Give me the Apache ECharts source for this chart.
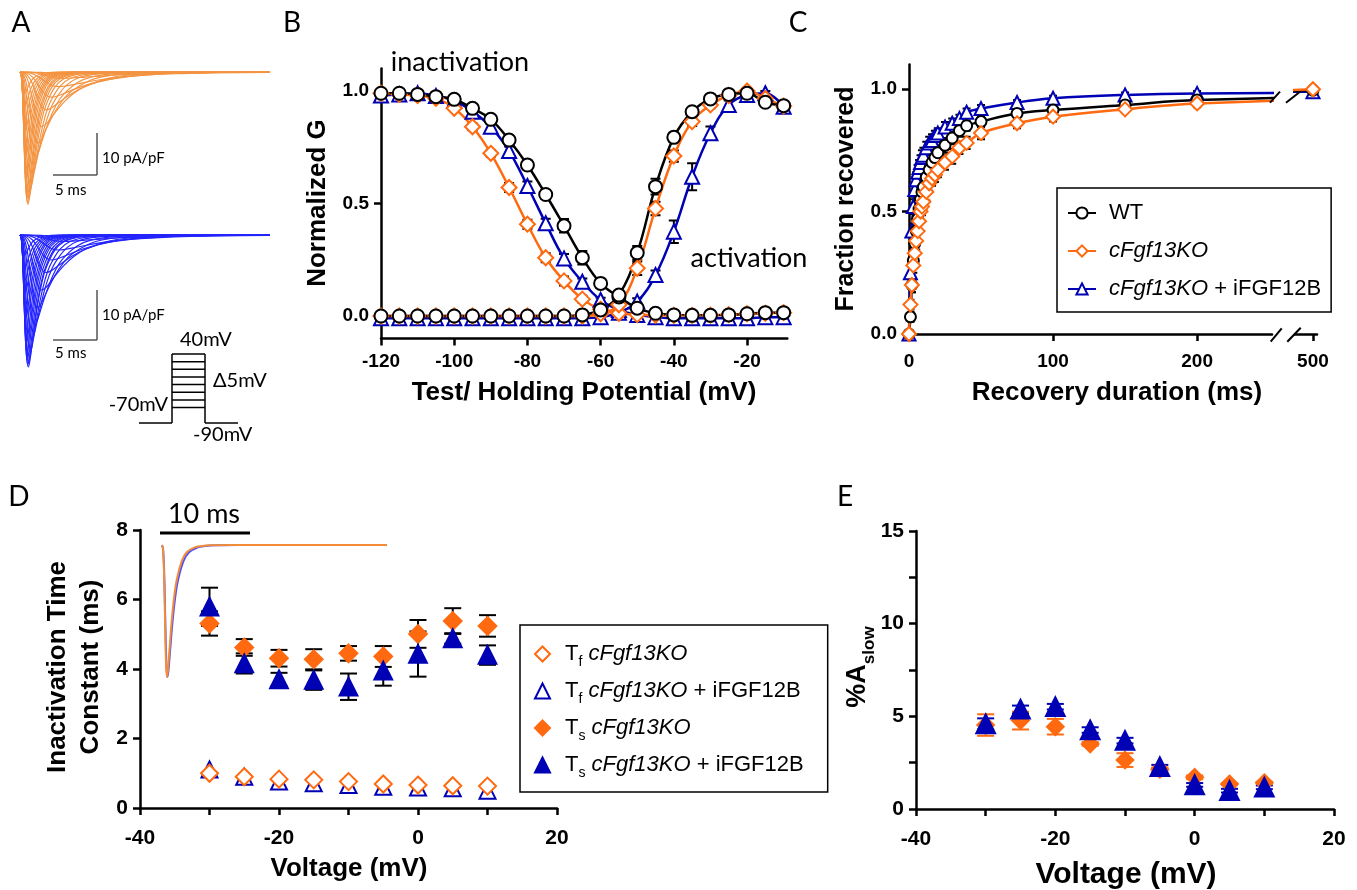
<!DOCTYPE html>
<html>
<head>
<meta charset="utf-8">
<title>cFgf13KO sodium current kinetics</title>
<script src="https://cdn.jsdelivr.net/npm/echarts@6/dist/echarts.min.js"></script>
<style>
  html, body { margin: 0; padding: 0; background: #fff; }
  #main { width: 1357px; height: 890px; }
</style>
</head>
<body>
<div id="main"></div>
<script>
// ---------- data ----------
// A: sodium current sweeps (-70 .. +40 mV), peak density (pA/pF) and time to peak (ms)
var sweepAmpKO = [0.5, 1.5, 3.5, 6, 9, 13, 17, 21, 25, 28, 30, 31.5, 31, 30, 28, 25.5, 23, 20, 17, 14, 11, 8, 5];
var sweepTpKO = [6, 5, 4.4, 3.6, 3.0, 2.5, 2.0, 1.65, 1.35, 1.15, 1.0, 0.9, 0.84, 0.8, 0.75, 0.72, 0.7, 0.68, 0.65, 0.62, 0.6, 0.58, 0.55];
var sweepAmpRescue = [0.4, 1.3, 3, 5, 7.5, 11, 14.5, 18, 21, 23.5, 25.3, 26.4, 26, 25, 23.5, 21.5, 19, 16.5, 14, 11.5, 9, 6.5, 4];
var sweepTpRescue = [6, 5, 4.4, 3.6, 3.0, 2.5, 2.0, 1.65, 1.35, 1.15, 1.0, 0.95, 0.88, 0.82, 0.78, 0.74, 0.7, 0.68, 0.65, 0.62, 0.6, 0.58, 0.55];
// normalised current waveform (time in units of time-to-peak)
var shapeT = [0, 0.2, 0.4, 0.6, 0.8, 1.0, 1.2, 1.5, 2.0, 2.5, 3.0, 4.0, 5.0, 6.5, 8.0, 10, 14];
var shapeI = [0, 0.03, 0.2, 0.55, 0.88, 1.0, 0.95, 0.8, 0.56, 0.38, 0.26, 0.12, 0.055, 0.02, 0.008, 0.002, 0];
var sweepEnd = 28.7;
// D inset: normalised traces, time to peak (ms)
var insetTpKO = 0.55;
var insetTpRescue = 0.6;
var insetEnd = 25;

// B: steady-state inactivation / activation
var vB = [-120, -115, -110, -105, -100, -95, -90, -85, -80, -75, -70, -65, -60, -55, -50, -45, -40, -35, -30, -25, -20, -15, -10];
var inactWT = [0.99, 0.99, 0.985, 0.975, 0.963, 0.923, 0.874, 0.782, 0.671, 0.540, 0.401, 0.259, 0.145, 0.085, 0.035, 0.012, 0.005, 0.003, 0.003, 0.005, 0.01, 0.015, 0.015];
var inactKO = [0.99, 0.985, 0.98, 0.967, 0.923, 0.841, 0.723, 0.571, 0.408, 0.259, 0.156, 0.075, 0.03, 0.012, 0.006, 0.004, 0.003, 0.003, 0.004, 0.006, 0.01, 0.012, 0.015];
var inactRescue = [0.98, 0.985, 0.99, 0.978, 0.957, 0.908, 0.841, 0.733, 0.578, 0.412, 0.256, 0.152, 0.071, 0.027, 0.005, -0.005, -0.01, -0.01, -0.01, -0.01, -0.01, -0.005, -0.005];
var actWT = [0, 0, 0, 0, 0, 0, 0, 0, 0, 0, 0, 0.005, 0.027, 0.093, 0.281, 0.575, 0.794, 0.908, 0.965, 0.985, 0.99, 0.95, 0.935];
var actKO = [0, 0, 0, 0, 0, 0, 0, 0, 0, 0, 0, 0, 0.01, 0.05, 0.212, 0.478, 0.711, 0.864, 0.938, 0.98, 1.0, 0.967, 0.933];
var actRescue = [-0.01, -0.01, -0.01, -0.01, -0.01, -0.01, -0.01, -0.01, -0.01, -0.01, -0.01, -0.01, -0.005, 0.015, 0.064, 0.182, 0.375, 0.619, 0.812, 0.938, 0.982, 0.99, 0.93];
var errInactWT = [0, 0, 0, 0.01, 0.01, 0.01, 0.015, 0.015, 0.02, 0.02, 0.03, 0.03, 0.02, 0.015, 0.01, 0, 0, 0, 0, 0, 0, 0, 0];
var errInactKO = [0, 0, 0, 0.01, 0.01, 0.015, 0.015, 0.02, 0.02, 0.02, 0.02, 0.015, 0.01, 0, 0, 0, 0, 0, 0, 0, 0, 0, 0];
var errInactRescue = [0, 0, 0, 0.01, 0.01, 0.015, 0.02, 0.02, 0.02, 0.02, 0.02, 0.015, 0.01, 0, 0, 0, 0, 0, 0, 0, 0, 0, 0];
var errActWT = [0, 0, 0, 0, 0, 0, 0, 0, 0, 0, 0, 0, 0.01, 0.015, 0.03, 0.035, 0.02, 0.015, 0.01, 0.01, 0.01, 0.015, 0.02];
var errActKO = [0, 0, 0, 0, 0, 0, 0, 0, 0, 0, 0, 0, 0.01, 0.01, 0.03, 0.03, 0.025, 0.02, 0.015, 0.01, 0.01, 0.01, 0.015];
var errActRescue = [0, 0, 0, 0, 0, 0, 0, 0, 0, 0, 0, 0, 0, 0.01, 0.015, 0.02, 0.05, 0.06, 0.03, 0.02, 0.01, 0.01, 0.015];

// C: recovery from inactivation
var recTime = [0, 1, 2, 3, 4, 5, 6, 7, 8, 9, 10, 12, 14, 16, 18, 20, 25, 30, 35, 40, 50, 75, 100, 150, 200, 500];
var recWT = [0, 0.07, 0.2, 0.3, 0.37, 0.42, 0.47, 0.51, 0.55, 0.58, 0.6, 0.64, 0.67, 0.7, 0.72, 0.74, 0.77, 0.8, 0.83, 0.85, 0.867, 0.9, 0.914, 0.935, 0.955, 0.995];
var recKO = [0, 0.12, 0.2, 0.28, 0.33, 0.38, 0.42, 0.46, 0.5, 0.52, 0.54, 0.58, 0.615, 0.635, 0.65, 0.67, 0.7, 0.725, 0.76, 0.78, 0.82, 0.86, 0.887, 0.917, 0.941, 0.999];
var recRescue = [0, 0.25, 0.42, 0.52, 0.59, 0.63, 0.66, 0.68, 0.7, 0.72, 0.73, 0.76, 0.78, 0.79, 0.81, 0.82, 0.845, 0.86, 0.88, 0.905, 0.92, 0.945, 0.962, 0.976, 0.982, 0.989];
var errRecWT = [0, 0.02, 0.03, 0.03, 0.03, 0.03, 0.03, 0.03, 0.03, 0.03, 0.03, 0.03, 0.03, 0.03, 0.03, 0.03, 0.03, 0.025, 0.025, 0.02, 0.02, 0.02, 0.015, 0.015, 0.01, 0.01];
var errRecKO = [0, 0.02, 0.03, 0.03, 0.035, 0.035, 0.035, 0.035, 0.035, 0.035, 0.035, 0.035, 0.03, 0.03, 0.03, 0.03, 0.03, 0.03, 0.025, 0.025, 0.025, 0.02, 0.02, 0.015, 0.015, 0.01];
var errRecRescue = [0, 0.03, 0.03, 0.03, 0.03, 0.03, 0.03, 0.03, 0.03, 0.03, 0.03, 0.025, 0.025, 0.025, 0.02, 0.02, 0.02, 0.02, 0.015, 0.015, 0.015, 0.01, 0.01, 0.01, 0.01, 0.01];

// D: inactivation time constants (ms)
var vD = [-30, -25, -20, -15, -10, -5, 0, 5, 10];
var tfKO = [1.00, 0.90, 0.83, 0.81, 0.76, 0.69, 0.66, 0.64, 0.63];
var tfRescue = [1.11, 0.90, 0.76, 0.71, 0.66, 0.61, 0.59, 0.57, 0.50];
var tsKO = [5.31, 4.62, 4.31, 4.28, 4.45, 4.36, 5.01, 5.38, 5.24];
var tsRescue = [5.79, 4.16, 3.70, 3.68, 3.49, 3.95, 4.43, 4.88, 4.40];
var errTsKO = [0.35, 0.24, 0.24, 0.29, 0.21, 0.30, 0.40, 0.37, 0.31];
var errTsRescue = [0.55, 0.29, 0.19, 0.28, 0.38, 0.43, 0.65, 0.15, 0.28];

// E: % slow component
var aslowKO = [4.53, 4.77, 4.44, 3.51, 2.64, 2.14, 1.71, 1.35, 1.42];
var aslowRescue = [4.59, 5.38, 5.52, 4.26, 3.69, 2.28, 1.30, 0.99, 1.17];
var errAslowKO = [0.58, 0.48, 0.42, 0.1, 0.37, 0.1, 0.1, 0.05, 0.05];
var errAslowRescue = [0.3, 0.2, 0.15, 0.15, 0.15, 0.1, 0.1, 0.1, 0.1];

// ---------- style ----------
var BLACK = '#000';
var ORANGE = '#FF6A10';
var BLUE = '#0000B4';
var TRACE_ORANGE = '#F39442';
var TRACE_BLUE = '#2424FF';
var AXIS_FONT = 'Liberation Sans';
var NOTE_FONT = 'Lato';

var chart = echarts.init(document.getElementById('main'));

function grid(l, t, w, h) {
  return { left: l, top: t, width: w, height: h, outerBoundsMode: 'none', containLabel: false };
}

function axis(gi, min, max, ticks, labels, o) {
  o = o || {};
  var a = {
    type: 'value', gridIndex: gi, min: min, max: max,
    splitLine: { show: false },
    axisLine: { show: true, onZero: false, lineStyle: { color: BLACK, width: 2.5 } },
    axisTick: { show: true, length: o.tick || 7, customValues: ticks, lineStyle: { color: BLACK, width: 2.5 } },
    axisLabel: {
      show: true, customValues: labels, margin: o.margin || 10, color: BLACK,
      fontFamily: AXIS_FONT, fontWeight: 'bold', fontSize: o.size || 19
    }
  };
  if (o.fmt) a.axisLabel.formatter = o.fmt;
  return a;
}

function hidden(gi, min, max) {
  return { type: 'value', gridIndex: gi, min: min, max: max, show: false, splitLine: { show: false } };
}

function sweep(amp, tp, tEnd) {
  var pts = [];
  for (var i = 0; i < shapeT.length; i++) {
    if (shapeT[i] * tp < tEnd) pts.push([shapeT[i] * tp, -amp * shapeI[i]]);
  }
  pts.push([tEnd, 0]);
  return pts;
}

function pairs(xs, ys) {
  return xs.map(function (x, i) { return [x, ys[i]]; });
}

function curve(gi, name, xs, ys, color, symbol, size, z) {
  return {
    type: 'line', name: name, xAxisIndex: gi, yAxisIndex: gi, data: pairs(xs, ys),
    smooth: 0.4, symbol: symbol, symbolSize: size, showSymbol: true,
    lineStyle: { color: color, width: 2.5 },
    itemStyle: { color: color, borderColor: color, borderWidth: 2.2 },
    z: z || 3, clip: true, silent: true, animation: false
  };
}

function errBars(gi, xs, ys, es, color, cap, z) {
  return {
    type: 'custom', xAxisIndex: gi, yAxisIndex: gi, silent: true, z: z || 2, clip: true,
    data: xs.map(function (x, i) { return [x, ys[i] - es[i], ys[i] + es[i]]; }),
    encode: { x: 0, y: [1, 2] },
    renderItem: function (params, api) {
      if (api.value(1) === api.value(2)) return null;
      var lo = api.coord([api.value(0), api.value(1)]);
      var hi = api.coord([api.value(0), api.value(2)]);
      var h = cap / 2;
      var st = { stroke: color, lineWidth: 2 };
      return {
        type: 'group', children: [
          { type: 'line', shape: { x1: lo[0], y1: lo[1], x2: hi[0], y2: hi[1] }, style: st },
          { type: 'line', shape: { x1: lo[0] - h, y1: lo[1], x2: lo[0] + h, y2: lo[1] }, style: st },
          { type: 'line', shape: { x1: hi[0] - h, y1: hi[1], x2: hi[0] + h, y2: hi[1] }, style: st }
        ]
      };
    }
  };
}

function dots(gi, name, xs, ys, color, symbol, size, z) {
  return {
    type: 'scatter', name: name, xAxisIndex: gi, yAxisIndex: gi, data: pairs(xs, ys),
    symbol: symbol, symbolSize: size,
    itemStyle: { color: color, borderColor: color, borderWidth: 2.5, opacity: 1 },
    z: z || 4, silent: true
  };
}

// ---------- series ----------
var series = [];

// A: current traces
sweepAmpKO.forEach(function (a, i) {
  series.push({ type: 'line', xAxisIndex: 0, yAxisIndex: 0, data: sweep(a, sweepTpKO[i], sweepEnd),
    showSymbol: false, smooth: 0.4, silent: true, lineStyle: { color: TRACE_ORANGE, width: 1.2 } });
});
sweepAmpRescue.forEach(function (a, i) {
  series.push({ type: 'line', xAxisIndex: 1, yAxisIndex: 1, data: sweep(a, sweepTpRescue[i], sweepEnd),
    showSymbol: false, smooth: 0.4, silent: true, lineStyle: { color: TRACE_BLUE, width: 1.2 } });
});

// B
series.push(errBars(2, vB, inactRescue, errInactRescue, BLACK, 10));
series.push(errBars(2, vB, actRescue, errActRescue, BLACK, 10));
series.push(errBars(2, vB, inactKO, errInactKO, BLACK, 10));
series.push(errBars(2, vB, actKO, errActKO, BLACK, 10));
series.push(errBars(2, vB, inactWT, errInactWT, BLACK, 10));
series.push(errBars(2, vB, actWT, errActWT, BLACK, 10));
series.push(curve(2, 'B inact rescue', vB, inactRescue, BLUE, 'emptyTriangle', 14));
series.push(curve(2, 'B act rescue', vB, actRescue, BLUE, 'emptyTriangle', 14));
series.push(curve(2, 'B inact KO', vB, inactKO, ORANGE, 'emptyDiamond', 15));
series.push(curve(2, 'B act KO', vB, actKO, ORANGE, 'emptyDiamond', 15));
series.push(curve(2, 'B inact WT', vB, inactWT, BLACK, 'emptyCircle', 13));
series.push(curve(2, 'B act WT', vB, actWT, BLACK, 'emptyCircle', 13));

// C (main segment, then the part after the axis break)
series.push(errBars(3, recTime, recRescue, errRecRescue, BLACK, 8));
series.push(errBars(3, recTime, recWT, errRecWT, BLACK, 8));
series.push(errBars(3, recTime, recKO, errRecKO, BLACK, 8));
series.push(curve(3, 'cFgf13KO + iFGF12B', recTime, recRescue, BLUE, 'emptyTriangle', 13));
series.push(curve(3, 'WT', recTime, recWT, BLACK, 'emptyCircle', 11));
series.push(curve(3, 'cFgf13KO', recTime, recKO, ORANGE, 'emptyDiamond', 14));
var nLast = recTime.length;
series.push(curve(4, 'cFgf13KO + iFGF12B', recTime.slice(nLast - 2), recRescue.slice(nLast - 2), BLUE, 'emptyTriangle', 13));
series.push(curve(4, 'WT', recTime.slice(nLast - 2), recWT.slice(nLast - 2), BLACK, 'emptyCircle', 11));
series.push(curve(4, 'cFgf13KO', recTime.slice(nLast - 2), recKO.slice(nLast - 2), ORANGE, 'emptyDiamond', 14));

// D
series.push(dots(5, 'Tf rescue', vD, tfRescue, BLUE, 'emptyTriangle', 16, 4));
series.push(dots(5, 'Tf KO', vD, tfKO, ORANGE, 'emptyDiamond', 17, 5));
series.push(errBars(5, vD, tsKO, errTsKO, BLACK, 17, 3));
series.push(errBars(5, vD, tsRescue, errTsRescue, BLACK, 17, 3));
series.push(dots(5, 'Ts KO', vD, tsKO, ORANGE, 'diamond', 17, 4));
series.push(dots(5, 'Ts rescue', vD, tsRescue, BLUE, 'triangle', 17, 5));
// D inset traces
series.push({ type: 'line', xAxisIndex: 6, yAxisIndex: 6, data: sweep(1, insetTpRescue, insetEnd),
  showSymbol: false, smooth: 0.4, silent: true, z: 6, lineStyle: { color: '#5050FF', width: 2 } });
series.push({ type: 'line', xAxisIndex: 6, yAxisIndex: 6, data: sweep(1, insetTpKO, insetEnd),
  showSymbol: false, smooth: 0.4, silent: true, z: 6, lineStyle: { color: '#F28C38', width: 2 } });

// E
series.push(errBars(7, vD, aslowRescue, errAslowRescue, BLUE, 17, 3));
series.push(errBars(7, vD, aslowKO, errAslowKO, ORANGE, 17, 3));
series.push(dots(7, 'E KO', vD, aslowKO, ORANGE, 'diamond', 16, 4));
series.push(dots(7, 'E rescue', vD, aslowRescue, BLUE, 'triangle', 18, 5));

// ---------- text & decorations ----------
var graphics = [];
function txt(text, x, y, size, o) {
  o = o || {};
  var style = {
    text: text, x: 0, y: 0, fill: BLACK,
    fontSize: size, fontFamily: o.family || AXIS_FONT, fontWeight: o.weight || 'normal',
    align: o.align || 'center', verticalAlign: 'middle'
  };
  if (o.rich) style.rich = o.rich;
  graphics.push({ type: 'text', x: x, y: y, rotation: o.rotate ? Math.PI / 2 : 0, z: 100, silent: true, style: style });
}
function seg(x1, y1, x2, y2, color, w) {
  graphics.push({ type: 'line', z: 100, silent: true, shape: { x1: x1, y1: y1, x2: x2, y2: y2 }, style: { stroke: color, lineWidth: w } });
}

// panel letters
txt('A', 21, 23, 28, { family: NOTE_FONT });
txt('B', 292, 23, 28, { family: NOTE_FONT });
txt('C', 798, 23, 28, { family: NOTE_FONT });
txt('D', 19, 497, 28, { family: NOTE_FONT });
txt('E', 845, 497, 28, { family: NOTE_FONT });

// A scale bars and protocol
seg(97, 133, 97, 175, '#555', 1.5);
seg(53, 175, 97, 175, '#555', 1.5);
txt('10 pA/pF', 102, 158, 15, { family: NOTE_FONT, align: 'left' });
txt('5 ms', 55, 190, 15, { family: NOTE_FONT, align: 'left' });
seg(97, 290, 97, 340, '#555', 1.5);
seg(53, 340, 97, 340, '#555', 1.5);
txt('10 pA/pF', 102, 315, 15, { family: NOTE_FONT, align: 'left' });
txt('5 ms', 55, 353, 15, { family: NOTE_FONT, align: 'left' });
seg(139, 423, 172, 423, BLACK, 1.5);
seg(172, 423, 172, 354, BLACK, 1.5);
[354, 361.7, 369.3, 377, 384.6, 392.3, 400, 407.6].forEach(function (y) { seg(172, y, 205, y, BLACK, 1.5); });
seg(205, 354, 205, 423, BLACK, 1.5);
seg(205, 423, 238, 423, BLACK, 1.5);
txt('40mV', 180, 340, 20, { family: NOTE_FONT, align: 'left' });
txt('\u03945mV', 213, 381, 20, { family: NOTE_FONT, align: 'left' });
txt('-70mV', 168, 405, 20, { family: NOTE_FONT, align: 'right' });
txt('-90mV', 193, 435, 20, { family: NOTE_FONT, align: 'left' });

// B
txt('inactivation', 460, 62, 27, { family: NOTE_FONT });
txt('activation', 749, 258, 27, { family: NOTE_FONT });
txt('Normalized G', 318, 203, 26, { weight: 'bold', rotate: true });
txt('Test/ Holding Potential (mV)', 584, 393, 26, { weight: 'bold' });

// C
txt('Fraction recovered', 846, 199, 25, { weight: 'bold', rotate: true });
txt('Recovery duration (ms)', 1117, 393, 26, { weight: 'bold' });
seg(1270.7, 341.7, 1281.7, 328.3, BLACK, 2);
seg(1287.3, 341.7, 1300.7, 327.7, BLACK, 2);
seg(1270, 102.7, 1280, 91.7, BLACK, 2);
seg(1286, 102.7, 1300, 91.7, BLACK, 2);

// D
txt('Inactivation Time', 58, 667, 26, { weight: 'bold', rotate: true });
txt('Constant (ms)', 91, 667, 26, { weight: 'bold', rotate: true });
txt('Voltage (mV)', 349, 869, 26, { weight: 'bold' });
seg(160, 533, 250, 533, BLACK, 3);
txt('10 ms', 204, 514, 27, { family: NOTE_FONT });

// E
txt('{a|%A}{b|slow}', 858, 667, 27, {
  weight: 'bold', rotate: true,
  rich: {
    a: { fontSize: 27, fontWeight: 'bold', fontFamily: AXIS_FONT, lineHeight: 40, verticalAlign: 'middle' },
    b: { fontSize: 17, fontWeight: 'bold', fontFamily: AXIS_FONT, lineHeight: 17, verticalAlign: 'bottom' }
  }
});
txt('Voltage (mV)', 1126, 875, 30, { weight: 'bold' });

// ---------- option ----------
var option = {
  animation: false,
  backgroundColor: '#fff',
  grid: [
    grid(20, 59.4, 250, 151.2),    // A KO traces
    grid(20, 220, 250, 155),       // A rescue traces
    grid(381, 68.5, 406.3, 270),   // B
    grid(909, 64.5, 363, 269.5),   // C before break
    grid(1295, 64.5, 22, 269.5),   // C after break
    grid(140, 530, 417, 278),      // D
    grid(162, 540, 225, 140),      // D inset
    grid(916, 531, 418, 278)       // E
  ],
  xAxis: [
    hidden(0, 0, sweepEnd),
    hidden(1, 0, sweepEnd),
    axis(2, -120, -9, [-120, -100, -80, -60, -40, -20], [-120, -100, -80, -60, -40, -20], { margin: 14 }),
    axis(3, 0, 252, [0, 100, 200], [0, 100, 200], { margin: 18 }),
    axis(4, 487.5, 502.8, [500], [500], { margin: 18 }),
    axis(5, -40, 20, [-40, -30, -20, -10, 0, 10, 20], [-40, -20, 0, 20], { margin: 20, size: 21 }),
    hidden(6, 0, insetEnd),
    axis(7, -40, 20, [-40, -30, -20, -10, 0, 10, 20], [-40, -20, 0, 20], { margin: 20, size: 21 })
  ],
  yAxis: [
    hidden(0, -33, 3),
    hidden(1, -28, 3),
    axis(2, -0.1, 1.1, [0, 0.5, 1], [0, 0.5, 1], { margin: 12, fmt: function (v) { return v.toFixed(1); } }),
    axis(3, 0, 1.1, [0, 0.5, 1], [0, 0.5, 1], { margin: 12, fmt: function (v) { return v.toFixed(1); } }),
    hidden(4, 0, 1.1),
    axis(5, 0, 8, [0, 2, 4, 6, 8], [0, 2, 4, 6, 8], { margin: 12, size: 21 }),
    hidden(6, -1.023, 0.038),
    axis(7, 0, 15, [0, 2.5, 5, 7.5, 10, 12.5, 15], [0, 5, 10, 15], { margin: 12, size: 21 })
  ],
  legend: [
    {
      orient: 'vertical', left: 1057, top: 188, selectedMode: false,
      padding: [14, 10, 12, 10], itemGap: 16, itemWidth: 28, itemHeight: 14,
      borderColor: BLACK, borderWidth: 1.5, backgroundColor: '#fff',
      data: ['WT', 'cFgf13KO', 'cFgf13KO + iFGF12B'],
      textStyle: {
        fontFamily: AXIS_FONT, fontSize: 22, color: BLACK, padding: [0, 0, 0, 8],
        rich: { i: { fontFamily: AXIS_FONT, fontSize: 22, fontStyle: 'italic', color: BLACK } }
      },
      formatter: function (name) {
        if (name === 'WT') return 'WT';
        if (name === 'cFgf13KO') return '{i|cFgf13KO}';
        return '{i|cFgf13KO} + iFGF12B';
      }
    },
    {
      orient: 'vertical', left: 520, top: 625, selectedMode: false,
      padding: [14, 24, 12, 14], itemGap: 7, itemWidth: 15, itemHeight: 15,
      borderColor: BLACK, borderWidth: 1.5, backgroundColor: '#fff',
      data: ['Tf KO', 'Tf rescue', 'Ts KO', 'Ts rescue'],
      textStyle: {
        fontFamily: AXIS_FONT, fontSize: 22, color: BLACK, padding: [0, 0, 0, 10], lineHeight: 30,
        rich: {
          t: { fontFamily: AXIS_FONT, fontSize: 22, color: BLACK, lineHeight: 30, verticalAlign: 'middle' },
          s: { fontFamily: AXIS_FONT, fontSize: 14, color: BLACK, lineHeight: 14, verticalAlign: 'bottom' },
          i: { fontFamily: AXIS_FONT, fontSize: 22, fontStyle: 'italic', color: BLACK, lineHeight: 30, verticalAlign: 'middle' },
          n: { fontFamily: AXIS_FONT, fontSize: 22, color: BLACK, lineHeight: 30, verticalAlign: 'middle' }
        }
      },
      formatter: function (name) {
        var sub = name.charAt(1);
        var rest = name.indexOf('rescue') > 0 ? '{i|cFgf13KO}{n| + iFGF12B}' : '{i|cFgf13KO}';
        return '{t|T}{s|' + sub + '}{n| }' + rest;
      }
    }
  ],
  graphic: graphics,
  series: series
};

chart.setOption(option);
</script>
</body>
</html>
